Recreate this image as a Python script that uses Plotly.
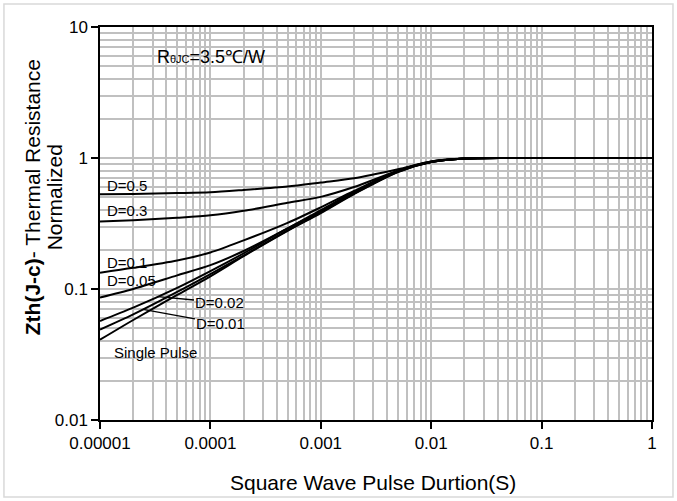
import math
import plotly.graph_objects as go

# ---- data ----
pulse_t = [1e-5, 2e-5, 5e-5, 1e-4, 2e-4, 5e-4, 1e-3, 2e-3, 5e-3, 1e-2, 2e-2, 5e-2, 1e-1, 1]
zth_d05 = [0.528, 0.532, 0.540, 0.548, 0.570, 0.605, 0.650, 0.700, 0.820, 0.940, 0.990, 1.0, 1.0, 1.0]
zth_d03 = [0.327, 0.335, 0.350, 0.365, 0.395, 0.455, 0.505, 0.600, 0.800, 0.940, 0.990, 1.0, 1.0, 1.0]
zth_d01 = [0.133, 0.145, 0.165, 0.190, 0.235, 0.320, 0.420, 0.560, 0.800, 0.935, 0.990, 1.0, 1.0, 1.0]
zth_d005 = [0.086, 0.100, 0.127, 0.152, 0.195, 0.290, 0.400, 0.550, 0.795, 0.932, 0.990, 1.0, 1.0, 1.0]
zth_d002 = [0.057, 0.072, 0.102, 0.137, 0.187, 0.290, 0.390, 0.540, 0.790, 0.930, 0.990, 1.0, 1.0, 1.0]
zth_d001 = [0.049, 0.064, 0.095, 0.130, 0.180, 0.280, 0.385, 0.535, 0.785, 0.930, 0.990, 1.0, 1.0, 1.0]
zth_single = [0.041, 0.058, 0.090, 0.125, 0.178, 0.278, 0.380, 0.530, 0.780, 0.930, 0.990, 1.0, 1.0, 1.0]

series = [("D=0.5", zth_d05), ("D=0.3", zth_d03), ("D=0.1", zth_d01), ("D=0.05", zth_d005),
          ("D=0.02", zth_d002), ("D=0.01", zth_d001), ("Single Pulse", zth_single)]

x_tickvals = [1e-5, 1e-4, 1e-3, 1e-2, 1e-1, 1]
x_ticktext = ["0.00001", "0.0001", "0.001", "0.01", "0.1", "1"]
y_tickvals = [0.01, 0.1, 1, 10]
y_ticktext = ["0.01", "0.1", "1", "10"]

FONT = "Liberation Sans, Arial, sans-serif"
GRID = "#c0c0c0"
L = math.log10

fig = go.Figure()
for name, vals in series:
    fig.add_trace(go.Scatter(x=pulse_t, y=vals, mode="lines", name=name,
                             line=dict(color="black", width=2, shape="spline", smoothing=0.8),
                             showlegend=False, hoverinfo="skip"))

minor_x = [m * 10 ** e for e in range(-5, 0) for m in range(2, 10)]
minor_y = [m * 10 ** e for e in range(-2, 1) for m in range(2, 10)]

common = dict(type="log", tickmode="array", showgrid=True, gridcolor=GRID, gridwidth=1.5,
              showline=True, linecolor="black", linewidth=1.5, mirror=True,
              ticks="outside", ticklen=7, tickcolor="black", tickwidth=1.5,
              tickfont=dict(family=FONT, size=17, color="black"), zeroline=False)
fig.update_xaxes(range=[-5, 0], tickvals=x_tickvals, ticktext=x_ticktext,
                 minor=dict(tickvals=minor_x, showgrid=True, gridcolor=GRID, gridwidth=1.5, ticks=""),
                 **common)
fig.update_yaxes(range=[-2, 1], tickvals=y_tickvals, ticktext=y_ticktext,
                 minor=dict(tickvals=minor_y, showgrid=True, gridcolor=GRID, gridwidth=1.5, ticks=""),
                 **common)

# axis titles
fig.add_annotation(xref="paper", yref="paper", x=0.495, y=-0.16, text="Square Wave Pulse Durtion(S)",
                   showarrow=False, xanchor="center", yanchor="middle",
                   font=dict(family=FONT, size=21, color="black"))
fig.add_annotation(xref="paper", yref="paper", x=-0.122, y=0.566,
                   text="<b>Zth(J-c)</b>- Thermal Resistance", textangle=-90,
                   showarrow=False, xanchor="center", yanchor="middle",
                   font=dict(family=FONT, size=21, color="black"))
fig.add_annotation(xref="paper", yref="paper", x=-0.082, y=0.566, text="Normalized", textangle=-90,
                   showarrow=False, xanchor="center", yanchor="middle",
                   font=dict(family=FONT, size=21, color="black"))

lab_font = dict(family=FONT, size=15, color="black")
# plain curve labels
for txt, xv, yv in [("D=0.5", 1.11e-5, 0.622), ("D=0.3", 1.11e-5, 0.394), ("D=0.1", 1.11e-5, 0.158),
                    ("D=0.05", 1.11e-5, 0.117), ("Single Pulse", 1.285e-5, 0.033)]:
    fig.add_annotation(x=L(xv), y=L(yv), xref="x", yref="y", text=txt, showarrow=False,
                       xanchor="left", yanchor="middle", font=lab_font)
# leader labels
fig.add_annotation(x=L(3.35e-5), y=-1.0575, text="D=0.02", showarrow=True, arrowhead=0, arrowwidth=1.3,
                   arrowcolor="black", ax=62, ay=6, standoff=0, font=lab_font)
fig.add_annotation(x=L(2.45e-5), y=-1.156, text="D=0.01", showarrow=True, arrowhead=0, arrowwidth=1.3,
                   arrowcolor="black", ax=78, ay=14, standoff=0, font=lab_font)
fig.add_annotation(x=L(3.15e-5), y=L(5.9), text="R<span style='font-size:11px'>θJC</span>=3.5℃/W",
                   showarrow=False, xanchor="left", yanchor="middle",
                   font=dict(family=FONT, size=18, color="black"))

# outer chart border
fig.add_shape(type="rect", xref="paper", yref="paper", x0=-0.174, x1=1.038, y0=-0.196, y1=1.0585,
              line=dict(color="#d9d9d9", width=1.5), layer="below")

fig.update_layout(width=677, height=501, margin=dict(l=100, r=25, t=27, b=81),
                  paper_bgcolor="white", plot_bgcolor="white", font=dict(family=FONT))
fig.write_html("out.html", config={"displayModeBar": False},
               post_script="document.body.style.margin='0';")
